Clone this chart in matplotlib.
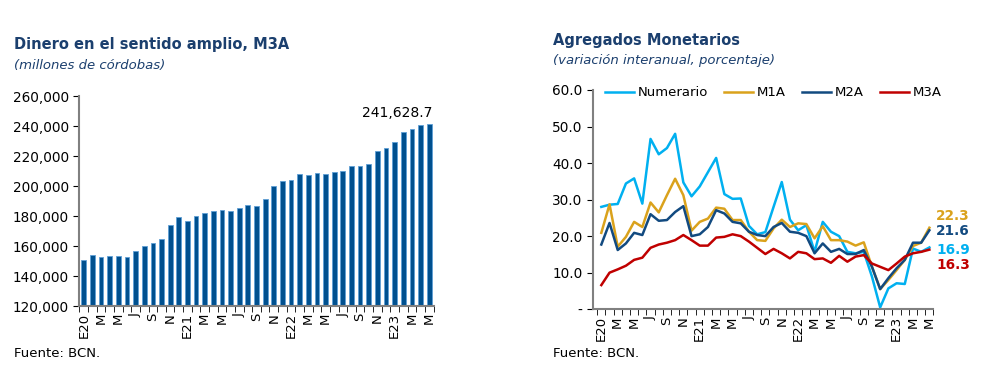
import numpy as np
import matplotlib.pyplot as plt

# months Jan 2020 .. May 2023, labels every two months
tick_labels = ["E20", "M", "M", "J", "S", "N",
               "E21", "M", "M", "J", "S", "N",
               "E22", "M", "M", "J", "S", "N",
               "E23", "M", "M"]

# M3A, millones de cordobas
m3a_level = [150700, 154000, 152700, 153300, 153300, 152700, 156700, 160000,
             162200, 164700, 174400, 179100, 176900, 180400, 182200, 183100,
             184400, 183100, 185300, 187100, 186700, 191300, 200000, 203300,
             204000, 208000, 207300, 208700, 208000, 209300, 210000, 213300,
             213300, 214700, 223100, 225600, 229100, 235800, 237800, 240700,
             241628.7]

# variacion interanual, %
numerario = [28.0, 28.6, 28.8, 34.4, 35.8, 28.9, 46.6, 42.4, 44.1, 48.0,
             34.7, 30.9, 33.6, 37.5, 41.4, 31.5, 30.2, 30.3, 22.8, 20.5,
             21.1, 28.0, 34.8, 24.5, 21.6, 23.0, 15.7, 23.9, 21.2, 20.0,
             15.7, 15.3, 15.7, 8.9, 0.5, 5.7, 7.1, 6.9, 16.6, 15.7, 16.9]
m1a = [20.9, 28.7, 17.1, 19.8, 23.9, 22.5, 29.2, 26.5, 31.2, 35.7,
       31.2, 21.5, 23.9, 24.8, 27.8, 27.5, 24.4, 24.4, 21.2, 18.9,
       18.7, 22.1, 24.5, 22.5, 23.5, 23.3, 19.4, 22.7, 18.9, 18.9,
       18.5, 17.4, 18.3, 11.6, 5.5, 8.0, 10.7, 13.5, 17.3, 18.2, 22.3]
m2a = [17.7, 23.6, 16.2, 18.0, 20.9, 20.3, 26.0, 24.2, 24.4, 26.6,
       28.2, 20.0, 20.5, 22.5, 27.1, 26.2, 23.9, 23.5, 21.2, 20.3,
       20.0, 22.5, 23.6, 21.2, 20.9, 20.0, 15.3, 18.0, 15.7, 16.5,
       15.1, 15.1, 16.2, 11.6, 5.5, 8.5, 11.2, 13.5, 18.2, 18.2, 21.6]
m3a = [6.6, 10.0, 10.9, 11.9, 13.5, 14.1, 16.8, 17.7, 18.2, 18.9,
       20.3, 18.9, 17.4, 17.4, 19.6, 19.8, 20.5, 20.0, 18.5, 16.8,
       15.1, 16.5, 15.3, 13.9, 15.7, 15.3, 13.7, 13.9, 12.7, 14.6,
       13.0, 14.4, 14.8, 12.5, 11.6, 10.7, 12.5, 14.4, 15.3, 15.7, 16.3]

NAVY = "#1B3F6E"
GREY = "#808080"
series = [("Numerario", numerario, "#00B0F0"),
          ("M1A", m1a, "#DAA21C"),
          ("M2A", m2a, "#124A80"),
          ("M3A", m3a, "#C00000")]

plt.rcParams["font.family"] = ["DejaVu Sans"]

fig = plt.figure(figsize=(10.07, 3.78), dpi=100)
n = len(m3a_level)
x = np.arange(n)


def style_axis(ax):
    for s in ["top", "right"]:
        ax.spines[s].set_visible(False)
    for s in ["left", "bottom"]:
        ax.spines[s].set_color(GREY)
        ax.spines[s].set_linewidth(1.5)
    ax.set_xticks(x[::2])
    ax.set_xticklabels(tick_labels, rotation=90, fontsize=9.5)
    ax.set_xticks(np.arange(-0.5, n, 1), minor=True)
    ax.tick_params(axis="x", which="major", length=0, pad=5)
    ax.tick_params(axis="x", which="minor", length=4, color="k")
    ax.tick_params(axis="y", length=4, color="k", labelsize=9.8)


# left panel: bars
ax1 = fig.add_axes([0.0785, 0.19, 0.352, 0.556])
ax1.bar(x, m3a_level, width=0.55, color="#00508F", edgecolor="#5E9FD6",
        linewidth=0.6)
ax1.set_ylim(120000, 260000)
ax1.set_xlim(-0.55, n - 0.6)
ax1.set_yticks(np.arange(120000, 260001, 20000))
ax1.set_yticklabels([f"{v:,}" for v in range(120000, 260001, 20000)])
style_axis(ax1)
ax1.text(x[-1] + 0.35, m3a_level[-1] + 2200, f"{m3a_level[-1]:,.1f}",
         ha="right", va="bottom", fontsize=10)

fig.text(0.014, 0.87, "Dinero en el sentido amplio, M3A", fontsize=10.5,
         fontweight="bold", color=NAVY)
fig.text(0.014, 0.818, "(millones de córdobas)", fontsize=9.5,
         style="italic", color=NAVY)
fig.text(0.014, 0.055, "Fuente: BCN.", fontsize=9.5)

# right panel: lines
ax2 = fig.add_axes([0.589, 0.182, 0.338, 0.58])
for name, vals, col in series:
    ax2.plot(x, vals, color=col, linewidth=1.8, label=name)
ax2.set_ylim(0, 60)
ax2.set_xlim(-1.0, n - 0.7)
ax2.set_yticks(np.arange(0, 61, 10))
ax2.set_yticklabels(["-"] + [f"{v:.1f}" for v in range(10, 61, 10)])
style_axis(ax2)
ax2.legend(ncol=4, loc="upper left", bbox_to_anchor=(0.0, 1.07), frameon=False,
           fontsize=9.5, handlelength=2.2, columnspacing=1.2, handletextpad=0.3)

label_y = [25.4, 21.4, 16.2, 12.1]
for (name, vals, col), ly in zip([series[1], series[2], series[0], series[3]],
                                 label_y):
    ax2.text(n - 0.2, ly, f"{vals[-1]:.1f}", color=col, fontsize=9.8,
             fontweight="bold", va="center", ha="left", clip_on=False)

fig.text(0.549, 0.882, "Agregados Monetarios", fontsize=10.5,
         fontweight="bold", color=NAVY)
fig.text(0.549, 0.83, "(variación interanual, porcentaje)", fontsize=9.5,
         style="italic", color=NAVY)
fig.text(0.549, 0.055, "Fuente: BCN.", fontsize=9.5)

fig.savefig("out.png", dpi=100)
